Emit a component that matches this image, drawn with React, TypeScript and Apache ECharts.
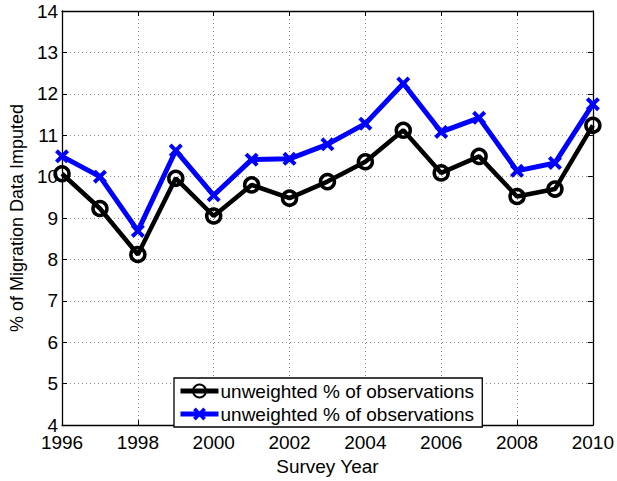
import React, { useEffect, useRef } from "react";
import * as echarts from "echarts";

const years = [1996, 1997, 1998, 1999, 2000, 2001, 2002, 2003, 2004, 2005, 2006, 2007, 2008, 2009, 2010];
const blackValues = [10.07, 9.23, 8.12, 9.96, 9.05, 9.8, 9.48, 9.88, 10.36, 11.12, 10.09, 10.49, 9.52, 9.7, 11.24];
const blueValues = [10.49, 10.0, 8.69, 10.63, 9.55, 10.41, 10.43, 10.78, 11.28, 12.25, 11.08, 11.42, 10.14, 10.33, 11.75];
const seriesNames = ["unweighted % of observations", "unweighted % of observations "];
const xTitle = "Survey Year";
const yTitle = "% of Migration Data Imputed";

const FONT = "'Liberation Sans', Arial, Helvetica, sans-serif";
const X_PATH = "path://M0,2 L2,0 L5,3 L8,0 L10,2 L7,5 L10,8 L8,10 L5,7 L2,10 L0,8 L3,5 Z";

export default function App() {
  const ref = useRef<HTMLDivElement>(null);
  useEffect(() => {
    document.body.style.margin = "0";
    if (!ref.current) return;
    const chart = echarts.init(ref.current, null, { renderer: "svg" });
    const tick = { show: true, inside: true, length: 5, lineStyle: { color: "#000", width: 1 } };
    const axisLine = { show: true, onZero: false, lineStyle: { color: "#000", width: 1.3 } };
    const split = { show: true, lineStyle: { color: "#8a8a8a", type: [1, 3], width: 1 } };
    chart.setOption({
      animation: false,
      backgroundColor: "#fff",
      textStyle: { fontFamily: FONT },
      grid: { left: 61, right: 21, top: 11, bottom: 48, containLabel: false },
      legend: {
        orient: "vertical",
        left: 174,
        top: 378,
        padding: [3, 3, 3, 4],
        itemGap: 3,
        itemWidth: 38,
        itemHeight: 16,
        backgroundColor: "#fff",
        borderColor: "#000",
        borderWidth: 1.3,
        borderRadius: 0,
        lineStyle: { width: 5 },
        textStyle: { fontSize: 19, color: "#000", fontFamily: FONT, lineHeight: 20, padding: [0, 0, 0, -3] },
        data: seriesNames,
      },
      xAxis: [
        {
          type: "value",
          min: 1996,
          max: 2010,
          interval: 2,
          position: "bottom",
          name: xTitle,
          nameLocation: "middle",
          nameGap: 26,
          nameTextStyle: { fontSize: 19, color: "#000", fontFamily: FONT },
          axisLine,
          axisTick: tick,
          axisLabel: {
            color: "#000",
            fontSize: 19,
            margin: 8,
            fontFamily: FONT,
            showMinLabel: true,
            showMaxLabel: true,
            formatter: (v: number) => String(v),
          },
          splitLine: split,
        },
        {
          type: "value",
          min: 1996,
          max: 2010,
          interval: 2,
          position: "top",
          axisLine,
          axisTick: tick,
          axisLabel: { show: false },
          splitLine: { show: false },
        },
      ],
      yAxis: [
        {
          type: "value",
          min: 4,
          max: 14,
          interval: 1,
          position: "left",
          name: yTitle,
          nameLocation: "middle",
          nameGap: 31,
          nameTextStyle: { fontSize: 18, color: "#000", fontFamily: FONT },
          axisLine,
          axisTick: tick,
          axisLabel: { color: "#000", fontSize: 19, margin: 4, fontFamily: FONT },
          splitLine: split,
        },
        {
          type: "value",
          min: 4,
          max: 14,
          interval: 1,
          position: "right",
          axisLine,
          axisTick: tick,
          axisLabel: { show: false },
          splitLine: { show: false },
        },
      ],
      series: [
        {
          name: seriesNames[0],
          type: "line",
          xAxisIndex: 0,
          yAxisIndex: 0,
          data: years.map((y, i) => [y, blackValues[i]]),
          lineStyle: { color: "#000", width: 4.5 },
          symbol: "circle",
          symbolSize: 14,
          showAllSymbol: true,
          itemStyle: { color: "rgba(255,255,255,0)", borderColor: "#000", borderWidth: 3.5 },
          emphasis: { disabled: true },
        },
        {
          name: seriesNames[1],
          type: "line",
          xAxisIndex: 0,
          yAxisIndex: 0,
          data: years.map((y, i) => [y, blueValues[i]]),
          lineStyle: { color: "#0000ff", width: 5 },
          symbol: X_PATH,
          symbolSize: 14,
          showAllSymbol: true,
          itemStyle: { color: "#0000ff" },
          emphasis: { disabled: true },
        },
      ],
    });
    return () => chart.dispose();
  }, []);
  return <div ref={ref} style={{ width: 617, height: 481 }} />;
}
